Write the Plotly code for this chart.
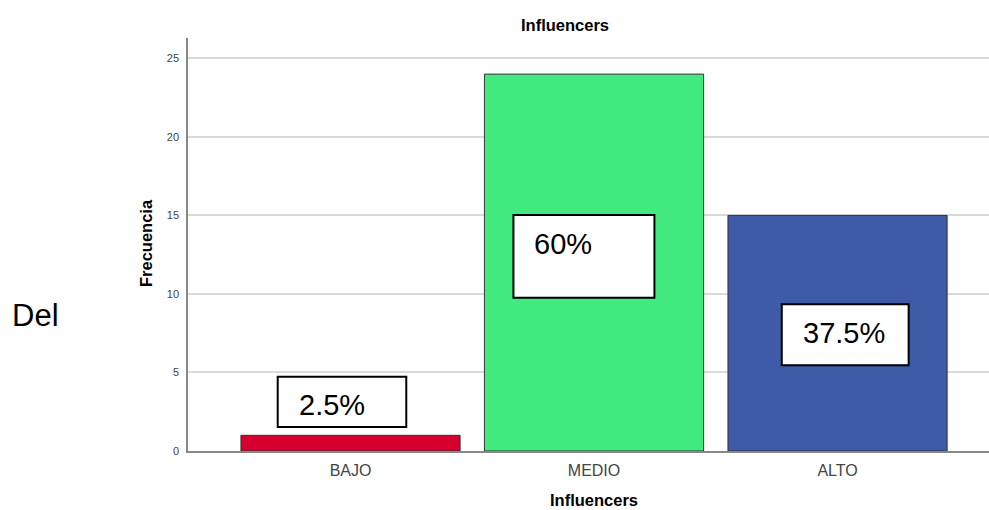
import plotly.graph_objects as go

categories = ["BAJO", "MEDIO", "ALTO"]
frecuencia = [1, 24, 15]
percent_labels = ["2.5%", "60%", "37.5%"]
bar_colors = ["#D6002F", "#42E97E", "#3F5BA8"]
y_ticks = [0, 5, 10, 15, 20, 25]

# label box layout (data coordinates: x0, x1, y0, y1) and text anchor
label_boxes = [(-0.299, 0.229, 1.53, 4.73), (0.669, 1.248, 9.76, 15.03), (1.771, 2.292, 5.46, 9.34)]
label_text_pos = [(-0.077, 2.93), (0.871, 13.2), (2.025, 7.5)]

W, H = 989, 510
L, R, T, B = 188, 0, 38, 59
pw = W - L - R
ph = H - T - B

FONT = "Arial, Liberation Sans"

fig = go.Figure()
fig.add_trace(go.Bar(
    x=list(range(len(categories))), y=frecuencia,
    marker=dict(color=bar_colors, line=dict(color="#333333", width=1)),
    width=0.9, showlegend=False, hoverinfo="skip",
))

shapes = []
annotations = []
for (x0, x1, y0, y1), (tx, ty), lab in zip(label_boxes, label_text_pos, percent_labels):
    shapes.append(dict(type="rect", xref="x", yref="y", x0=x0, x1=x1, y0=y0, y1=y1,
                       fillcolor="white", line=dict(color="black", width=2), layer="above"))
    annotations.append(dict(x=tx, y=ty, xref="x", yref="y", text=lab, showarrow=False,
                            font=dict(family=FONT, size=29, color="black"),
                            xanchor="center", yanchor="middle"))

# chart title
annotations.append(dict(x=(565 - L) / pw, y=(H - B - 25) / ph, xref="paper", yref="paper",
                        text="<b>Influencers</b>", showarrow=False,
                        font=dict(family=FONT, size=16.5, color="black"),
                        xanchor="center", yanchor="middle"))
# x axis title
annotations.append(dict(x=(594 - L) / pw, y=(H - B - 500) / ph, xref="paper", yref="paper",
                        text="<b>Influencers</b>", showarrow=False,
                        font=dict(family=FONT, size=16.5, color="black"),
                        xanchor="center", yanchor="middle"))
# y axis title
annotations.append(dict(x=(146 - L) / pw, y=(H - B - 243) / ph, xref="paper", yref="paper",
                        text="<b>Frecuencia</b>", showarrow=False, textangle=-90,
                        font=dict(family=FONT, size=16.5, color="black"),
                        xanchor="center", yanchor="middle"))
# side text
annotations.append(dict(x=(10 - L) / pw, y=(H - B - 315) / ph, xref="paper", yref="paper",
                        text="Del", showarrow=False,
                        font=dict(family=FONT, size=31, color="black"),
                        xanchor="left", yanchor="middle"))

fig.update_layout(
    width=W, height=H,
    margin=dict(l=L, r=R, t=T, b=B),
    plot_bgcolor="white", paper_bgcolor="white",
    shapes=shapes, annotations=annotations,
    bargap=0.1,
)
fig.update_xaxes(
    range=[-0.6674, 2.622],
    tickmode="array", tickvals=list(range(len(categories))), ticktext=categories,
    tickfont=dict(family=FONT, size=16, color="#444444"),
    showgrid=False, zeroline=False,
    showline=True, linecolor="#888888", linewidth=1.5,
    ticks="", ticklabelstandoff=4,
)
fig.update_yaxes(
    range=[0, 26.3],
    tickmode="array", tickvals=y_ticks,
    tickfont=dict(family=FONT, size=11, color="#444444"),
    showgrid=True, gridcolor="#d9d9d9", gridwidth=1.5,
    zeroline=False,
    showline=True, linecolor="#888888", linewidth=1.5,
    ticks="", ticklabelstandoff=5,
)

fig.write_html("out.html")
